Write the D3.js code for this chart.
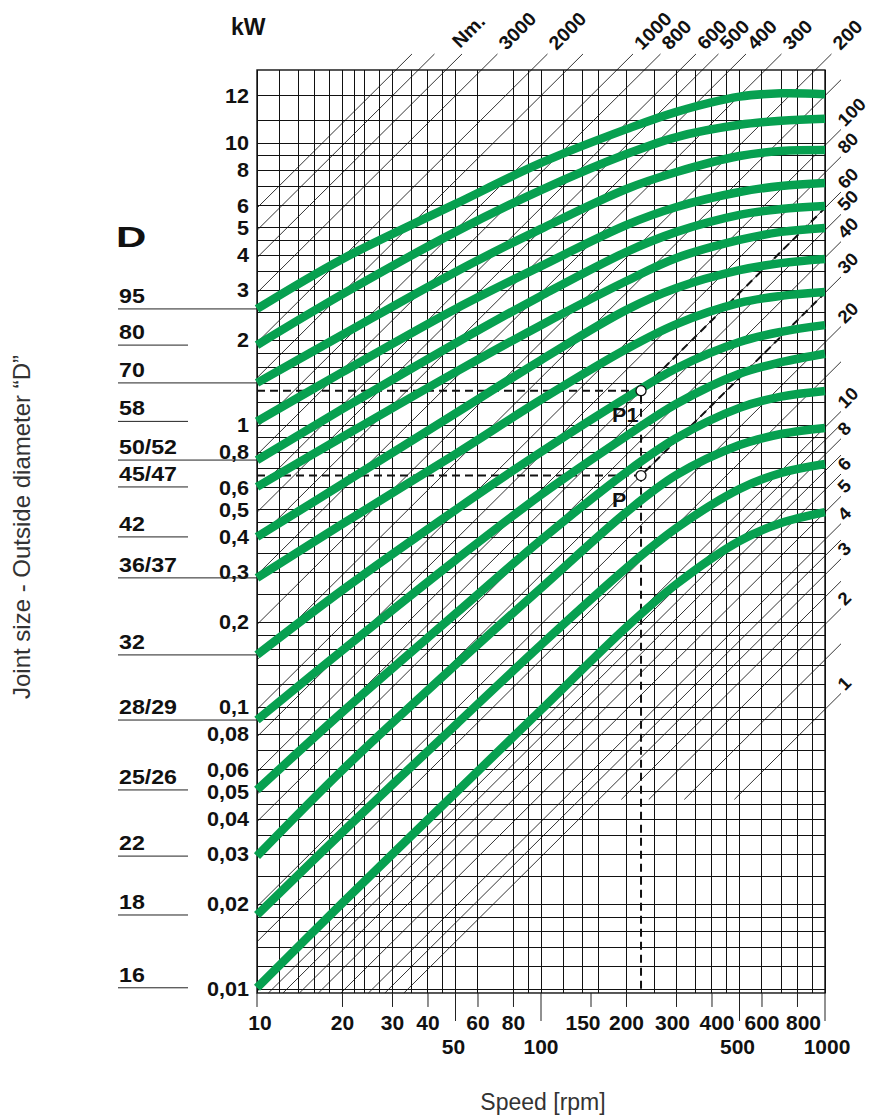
<!DOCTYPE html>
<html><head><meta charset="utf-8">
<script src="https://cdn.jsdelivr.net/npm/d3@7"></script>
<style>
body{margin:0;background:#fff;}
svg text{font-family:"Liberation Sans",Arial,Helvetica,sans-serif;fill:#111;}
</style></head><body>
<svg id="chart" width="869" height="1117"></svg>
<script>
// ---------------- data ----------------
const rpmPoints = [10, 20, 50, 100, 200, 300, 500, 700, 1000];
const kwD95   = [2.58, 3.88, 6.08, 8.50, 11.2, 12.9, 14.6, 15.0, 14.9];
const kwD80   = [1.92, 2.91, 4.84, 6.81, 9.14, 10.5, 11.6, 12.0, 12.2];
const kwD70   = [1.41, 2.09, 3.49, 4.96, 6.87, 7.89, 8.99, 9.37, 9.45];
const kwD58   = [1.03, 1.54, 2.58, 3.66, 5.12, 5.93, 6.70, 7.04, 7.22];
const kwD50   = [0.751, 1.14, 1.95, 2.87, 4.11, 4.84, 5.56, 5.83, 5.98];
const kwD45   = [0.603, 0.907, 1.54, 2.26, 3.24, 3.91, 4.53, 4.84, 5.00];
const kwD42   = [0.401, 0.618, 1.10, 1.70, 2.56, 3.06, 3.54, 3.75, 3.88];
const kwD36   = [0.287, 0.446, 0.789, 1.23, 1.86, 2.28, 2.71, 2.87, 2.96];
const kwD32   = [0.153, 0.260, 0.500, 0.802, 1.25, 1.59, 1.97, 2.14, 2.26];
const kwD28   = [0.0899, 0.159, 0.332, 0.565, 0.914, 1.19, 1.52, 1.67, 1.79];
const kwD25   = [0.0508, 0.0960, 0.214, 0.391, 0.681, 0.899, 1.15, 1.26, 1.32];
const kwD22   = [0.0296, 0.0598, 0.141, 0.264, 0.491, 0.665, 0.849, 0.929, 0.976];
const kwD18   = [0.0183, 0.0360, 0.0863, 0.166, 0.311, 0.431, 0.593, 0.676, 0.727];
const kwD16   = [0.0101, 0.0202, 0.0496, 0.0976, 0.192, 0.273, 0.388, 0.449, 0.491];
const jointLabels = ["95","80","70","58","50/52","45/47","42","36/37","32","28/29","25/26","22","18","16"];
const longUnderline = ["95","70","50/52","36/37","32","28/29"];

const kwTickValues = [14.7, 10, 8, 6, 5, 4, 3, 2, 1, 0.8, 0.6, 0.5, 0.4, 0.3, 0.2, 0.1, 0.08, 0.06, 0.05, 0.04, 0.03, 0.02, 0.01];
const kwTickLabels = ["12","10","8","6","5","4","3","2","1","0,8","0,6","0,5","0,4","0,3","0,2","0,1","0,08","0,06","0,05","0,04","0,03","0,02","0,01"];
const rpmTicksRow1 = [10, 20, 30, 40, 60, 80, 150, 200, 300, 400, 600, 800];
const rpmTicksRow2 = [50, 100, 500, 1000];

const rpmGrid = [10,12,14,16,18,20,22,24,27,30,35,40,45,50,60,80,90,100,120,140,160,200,250,300,350,400,450,500,600,700,800,900,1000];
const kwGridSteps = [1,1.2,1.4,1.6,1.8,2,2.5,3,3.5,4,4.5,5,6,7,8,9];
const kwGridDecades = [0.01, 0.1, 1];
const kwGridTop = [10, 12, 14.7];

const torqueLines = [6000,5000,4000,3000,2000,1500,1000,800,600,500,400,300,200,150,100,80,60,50,40,30,20,15,10,9,8,7,6,5,4,3.5,3,2.5,2,1.5,1];
const torqueTopLabels = [3000,2000,1000,800,600,500,400,300,200];
const torqueRightLabels = [100,80,60,50,40,30,20,10,8,6,5,4,3,2,1];
const torqueConst = 10200;      // kW = Nm * rpm / torqueConst
const lowTorqueLimit = 3;       // lines below this torque stop short of the bottom edge
const lowTorqueStartKw = 0.047;

const markerSpeed = 225;
const markerTorques = [30, 60];
const markerNames = ["P", "P1"];

// ---------------- layout ----------------
const svg = d3.select("#chart");
const x = d3.scaleLog().domain([10, 1000]).range([257, 825]);
const y = d3.scaleLog().domain([0.01, 10]).range([989, 143]);
const kwFloor = 0.00968, kwCeil = 18.15;
const X0 = x(10), X1 = x(1000), Y0 = y(kwFloor), Y1 = y(kwCeil);
const green = "#07a050";

function txt(g, s, px, py, o = {}) {
  const t = g.append("text")
    .attr("transform", `translate(${px},${py}) rotate(${o.rot || 0}) scale(${o.sx || 1},1)`)
    .attr("text-anchor", o.anchor || "start")
    .attr("font-size", o.size || 20)
    .attr("font-weight", o.weight || "bold")
    .text(s);
  if (o.fill) t.style("fill", o.fill);
  return t;
}

// grid
const grid = svg.append("g").attr("stroke", "#111").attr("stroke-width", 1).attr("shape-rendering", "crispEdges");
rpmGrid.forEach(v => grid.append("line").attr("x1", x(v)).attr("x2", x(v)).attr("y1", Y1).attr("y2", Y0));
const kwGrid = [];
kwGridDecades.forEach(d => kwGridSteps.forEach(s => kwGrid.push(+(d * s).toPrecision(3))));
kwGridTop.forEach(v => kwGrid.push(v));
kwGrid.forEach(v => grid.append("line").attr("x1", X0).attr("x2", X1).attr("y1", y(v)).attr("y2", y(v)));

// torque diagonals
const diag = svg.append("g").attr("stroke", "#111").attr("stroke-width", 0.85).attr("fill", "none");
const ext = 16;
const lineEnds = {};
torqueLines.forEach(T => {
  const floorKw = T < lowTorqueLimit ? lowTorqueStartKw : kwFloor;
  const rStart = Math.max(10, floorKw * torqueConst / T);
  const rEnd = Math.min(1000, kwCeil * torqueConst / T);
  if (rStart >= rEnd) return;
  const x1 = x(rStart), y1 = y(T * rStart / torqueConst);
  const x2 = x(rEnd) + ext, y2 = y(T * rEnd / torqueConst) - ext;
  diag.append("line").attr("x1", x1).attr("y1", y1).attr("x2", x2).attr("y2", y2);
  lineEnds[T] = [x2, y2];
});

// frame
svg.append("rect").attr("x", X0).attr("y", Y1).attr("width", X1 - X0).attr("height", Y0 - Y1)
  .attr("fill", "none").attr("stroke", "#111").attr("stroke-width", 1.4);

// torque labels
const lab = svg.append("g");
torqueTopLabels.forEach(T => {
  const e = lineEnds[T]; if (!e) return;
  txt(lab, String(T), e[0] + 9, e[1] - 3, {rot: -45, size: 19, sx: 1.04});
});
torqueRightLabels.forEach(T => {
  const e = lineEnds[T]; if (!e) return;
  txt(lab, String(T), e[0] + 4, e[1] - 2, {rot: -45, size: 18, sx: 1.04});
});
txt(lab, "Nm.", 460, 49, {rot: -45, size: 19, sx: 1.04});

// marker dashed construction
const dash = svg.append("g").attr("stroke", "#111").attr("stroke-width", 2).attr("stroke-dasharray", "8,5").attr("fill", "none");
const mx = x(markerSpeed);
const markerKw = markerTorques.map(T => T * markerSpeed / torqueConst);
dash.append("line").attr("x1", mx).attr("x2", mx).attr("y1", y(d3.max(markerKw)) + 5).attr("y2", Y0);
markerTorques.forEach((T, i) => {
  const k = markerKw[i];
  dash.append("line").attr("x1", X0).attr("x2", mx - 5).attr("y1", y(k)).attr("y2", y(k));
  dash.append("line").attr("x1", mx + 4).attr("y1", y(k) - 4)
    .attr("x2", X1).attr("y2", y(T * 1000 / torqueConst));
});

// green curves
const series = [kwD95, kwD80, kwD70, kwD58, kwD50, kwD45, kwD42, kwD36, kwD32, kwD28, kwD25, kwD22, kwD18, kwD16];
const lineGen = d3.line().x((d, i) => x(rpmPoints[i])).y(d => y(d)).curve(d3.curveCatmullRom.alpha(0.5));
svg.append("g").selectAll("path").data(series).join("path")
  .attr("d", lineGen).attr("fill", "none").attr("stroke", green).attr("stroke-width", 8.5);

// marker circles and labels
markerKw.forEach((k, i) => {
  svg.append("circle").attr("cx", mx).attr("cy", y(k)).attr("r", 5)
    .attr("fill", "#fff").attr("stroke", "#111").attr("stroke-width", 1.3);
  txt(svg, markerNames[i], mx - 29, y(k) + 31, {size: 20, sx: 1.08});
});

// y-axis labels
const yl = svg.append("g");
kwTickValues.forEach((v, i) => txt(yl, kwTickLabels[i], 249, y(v) + 7, {anchor: "end", sx: 1.08}));

// x-axis ticks and labels
const row1Shift = [3, 0, 0, 0, 0, 0, -8, 0, -4, 5, 0, 6];
const row2Shift = [-2, 0, -2, 2];
const xt = svg.append("g").attr("stroke", "#222").attr("stroke-width", 1);
rpmTicksRow1.forEach((v, i) => {
  xt.append("line").attr("x1", x(v)).attr("x2", x(v)).attr("y1", Y0).attr("y2", Y0 + 14);
  txt(svg, String(v), x(v) + row1Shift[i], 1030, {anchor: "middle", sx: 1.05});
});
rpmTicksRow2.forEach((v, i) => {
  xt.append("line").attr("x1", x(v)).attr("x2", x(v)).attr("y1", Y0).attr("y2", Y0 + 28);
  txt(svg, String(v), x(v) + row2Shift[i], 1054, {anchor: "middle", sx: 1.05});
});

// joint size (D) labels with underlines
const dl = svg.append("g");
jointLabels.forEach((s, i) => {
  const ly = y(series[i][0]);
  const long = longUnderline.includes(s);
  dl.append("line").attr("x1", 118).attr("x2", long ? X0 : 188).attr("y1", ly).attr("y2", ly)
    .attr("stroke", "#222").attr("stroke-width", 1);
  txt(dl, s, 119, ly - 6, {sx: 1.16});
});

// titles
txt(svg, "D", 116, 247, {size: 30, sx: 1.4});
txt(svg, "kW", 231, 35, {size: 23});
txt(svg, "Speed [rpm]", 543, 1110, {size: 23, weight: "normal", anchor: "middle", fill: "#333"});
txt(svg, "Joint size - Outside diameter \u201CD\u201D", 30, 527, {size: 24, weight: "normal", anchor: "middle", rot: -90, fill: "#333"});
</script>
</body></html>
